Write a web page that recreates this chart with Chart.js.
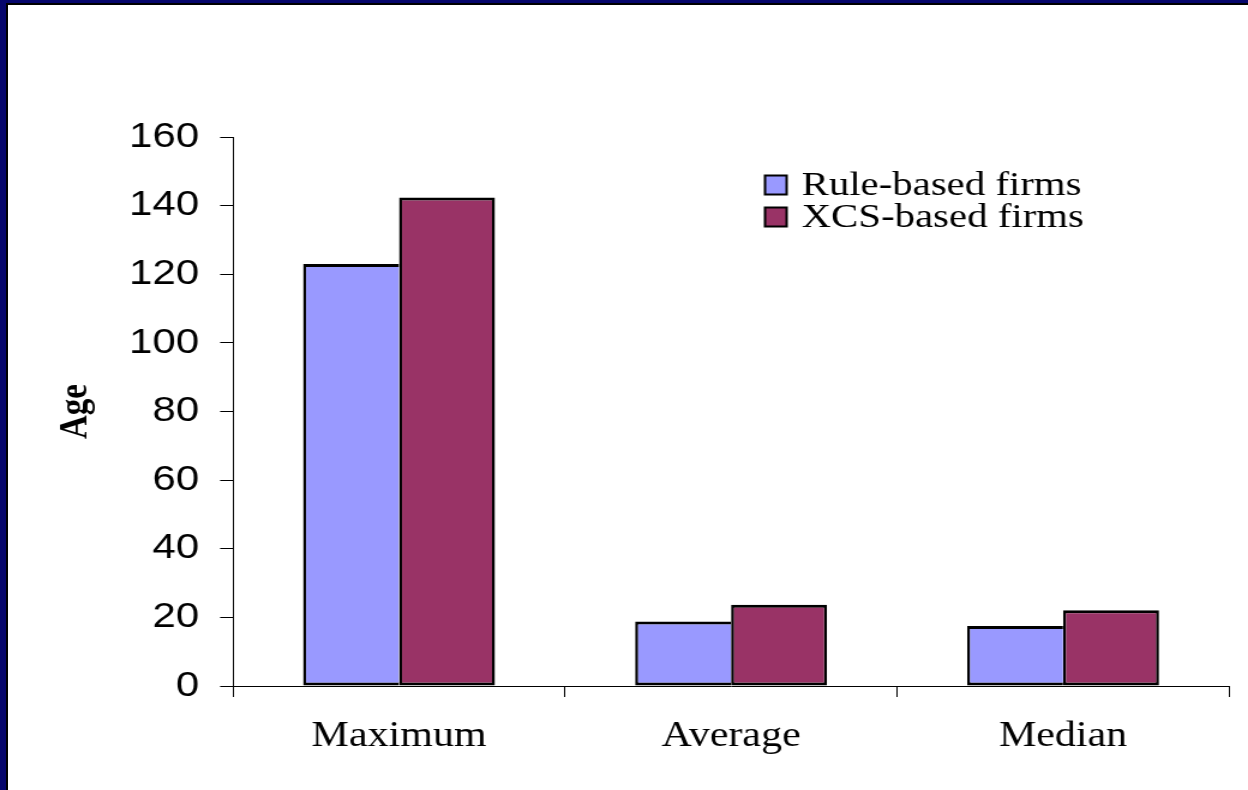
<!DOCTYPE html>
<html>
<head>
<meta charset="utf-8">
<script src="https://cdn.jsdelivr.net/npm/chart.js@4/dist/chart.umd.min.js"></script>
<style>
  html, body { margin: 0; padding: 0; }
  body { width: 1248px; height: 790px; overflow: hidden; position: relative; background: #06066c; }
  #panel { position: absolute; left: 6px; top: 3px; right: 0; bottom: 0; background: #fff;
           border-left: 2px solid #000; border-top: 2px solid #000; }
  /* the chart is laid out 1040 wide and stretched to the full 1248 width */
  #wrap { position: absolute; left: 0; top: 0; width: 1040px; height: 790px;
          transform: scaleX(1.2); transform-origin: 0 0; }
</style>
</head>
<body>
<div id="panel"></div>
<div id="wrap"><canvas id="c" width="1040" height="790"></canvas></div>
<script>
// Firm age statistics
const categories = ['Maximum', 'Average', 'Median'];
const seriesNames = ['Rule-based firms', 'XCS-based firms'];
const ruleBased = [123, 18.8, 17.5];
const xcsBased = [142.4, 23.7, 22.1];
const axisMin = 0;
const axisMax = 160;
const axisStep = 20;
const axisTitle = 'Age';

const ruleColor = '#9999ff';
const xcsColor = '#993366';

// Legend drawn at a fixed spot inside the plot, to the right
const legendPlugin = {
  id: 'boxLegend',
  afterDraw(chart) {
    const ctx = chart.ctx;
    const boxX = 637.5, boxW = 18, boxH = 19, textX = 668;
    const rows = [185, 217];
    ctx.save();
    ctx.font = '34px "Liberation Serif", "Times New Roman", serif';
    ctx.textBaseline = 'middle';
    ctx.textAlign = 'left';
    chart.data.datasets.forEach((ds, i) => {
      const y = rows[i];
      ctx.fillStyle = ds.backgroundColor;
      ctx.fillRect(boxX, y - boxH / 2, boxW, boxH);
      ctx.lineWidth = 2;
      ctx.strokeStyle = '#000';
      ctx.strokeRect(boxX, y - boxH / 2, boxW, boxH);
      ctx.fillStyle = '#000';
      ctx.fillText(ds.label, textX, y + 1);
    });
    ctx.restore();
  }
};

// the left series leaves its right edge to the neighbouring bar's outline
const ruleBorder = { top: 3, bottom: 3, left: 2.5, right: 0 };
const xcsBorder = { top: 3, bottom: 3, left: 2.5, right: 2.5 };

new Chart(document.getElementById('c'), {
  type: 'bar',
  data: {
    labels: categories,
    datasets: [
      { label: seriesNames[0], data: ruleBased, backgroundColor: ruleColor,
        borderColor: '#000', borderWidth: ruleBorder, borderSkipped: false },
      { label: seriesNames[1], data: xcsBased, backgroundColor: xcsColor,
        borderColor: '#000', borderWidth: xcsBorder, borderSkipped: false }
    ]
  },
  options: {
    responsive: false,
    animation: false,
    devicePixelRatio: 1,
    layout: { padding: { top: 137, right: 15.8, left: 0, bottom: 0 } },
    datasets: { bar: { categoryPercentage: 0.578, barPercentage: 1 } },
    plugins: { legend: { display: false }, tooltip: { enabled: false } },
    scales: {
      x: {
        afterFit(s) { s.height = 104; },
        grid: { display: true, offset: true, drawOnChartArea: false, drawTicks: true,
                tickLength: 11, color: '#000', lineWidth: 1 },
        border: { display: true, color: '#000', width: 1 },
        ticks: { color: '#000', padding: 18.5,
                 font: { family: '"Liberation Serif", "Times New Roman", serif', size: 35 } }
      },
      y: {
        min: axisMin, max: axisMax,
        afterFit(s) { s.width = 194.2; },
        grid: { display: true, drawOnChartArea: false, drawTicks: true,
                tickLength: 10.8, color: '#000', lineWidth: 1 },
        border: { display: true, color: '#000', width: 1 },
        ticks: { stepSize: axisStep, color: '#000', padding: 17.5,
                 font: { family: '"Liberation Sans", Arial, sans-serif', size: 35 } },
        title: { display: true, text: axisTitle, color: '#000', padding: { top: 44, bottom: 0 },
                 font: { family: '"Liberation Serif", "Times New Roman", serif', size: 33, weight: 'bold' } }
      }
    }
  },
  plugins: [legendPlugin]
});
</script>
</body>
</html>
